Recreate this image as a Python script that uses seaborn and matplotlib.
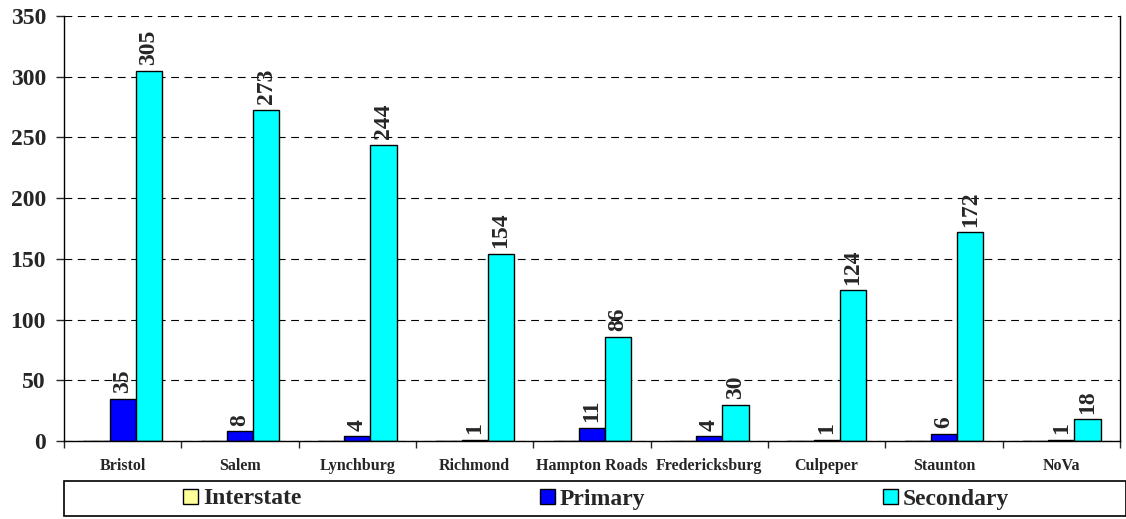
import pandas as pd
import matplotlib
matplotlib.use('Agg')
import matplotlib.pyplot as plt
import matplotlib.patches as mpatches
import seaborn as sns

# Данные
districts = ['Bristol', 'Salem', 'Lynchburg', 'Richmond', 'Hampton Roads',
             'Fredericksburg', 'Culpeper', 'Staunton', 'NoVa']
interstate = [0, 0, 0, 0, 0, 0, 0, 0, 0]
primary = [35, 8, 4, 1, 11, 4, 1, 6, 1]
secondary = [305, 273, 244, 154, 86, 30, 124, 172, 18]
series = ['Interstate', 'Primary', 'Secondary']
colors = ['#FFFF99', '#0000FF', '#00FFFF']

df = pd.DataFrame({'District': districts * 3,
                   'Type': [s for s in series for _ in districts],
                   'Count': interstate + primary + secondary})

sns.set_style('white')
plt.rcParams['font.family'] = ['Liberation Serif', 'DejaVu Serif']
plt.rcParams['font.weight'] = 'bold'

W, H = 1126, 519
fig = plt.figure(figsize=(W / 100, H / 100), dpi=100)
ax = fig.add_axes([64 / W, 1 - 441 / H, (1120 - 64) / W, (441 - 16) / H])

sns.barplot(data=df, x='District', y='Count', hue='Type', order=districts,
            hue_order=series, palette=colors, width=0.67, saturation=1,
            edgecolor='black', linewidth=1, ax=ax, legend=False)

# Подписи значений (только Primary и Secondary)
for i, cont in enumerate(ax.containers):
    if series[i] == 'Interstate':
        continue
    ax.bar_label(cont, rotation=90, padding=4, fontsize=17, fontweight='bold')

ax.set_ylim(0, 350)
ax.set_yticks(range(0, 351, 50))
ax.yaxis.grid(True, linestyle=(0, (7, 5)), color='black', linewidth=0.8)
ax.set_axisbelow(True)
ax.set_xlabel('')
ax.set_ylabel('')

for s in ['left', 'right', 'bottom']:
    ax.spines[s].set_visible(True)
    ax.spines[s].set_color('black')
    ax.spines[s].set_linewidth(1)
ax.spines['top'].set_visible(False)

# Метки оси Y
ax.tick_params(axis='y', labelsize=17, length=6, width=1, direction='out', left=True, pad=7)
for lbl in ax.get_yticklabels():
    lbl.set_fontweight('bold')

# Метки оси X по центрам, деления между категориями
ax.tick_params(axis='x', labelsize=11.5, length=0, pad=12)
for lbl in ax.get_xticklabels():
    lbl.set_fontweight('bold')
ax.set_xticks([i + 0.5 for i in range(-1, len(districts))], minor=True)
ax.tick_params(axis='x', which='minor', length=5, width=1, direction='out', bottom=True)
ax.set_xlim(-0.5, len(districts) - 0.5)

# Легенда: рамка и три элемента
frame = mpatches.Rectangle((64 / W, 1 - 516 / H), (W - 64) / W, 35 / H,
                           transform=fig.transFigure, facecolor='white',
                           edgecolor='black', linewidth=1.2)
fig.patches.append(frame)
for name, c, xpx in zip(series, colors, [183, 540, 883]):
    h = mpatches.Rectangle((0, 0), 1, 1, facecolor=c, edgecolor='black', linewidth=1)
    fig.legend([h], [name], loc='center left', bbox_to_anchor=(xpx / W, 1 - 499 / H),
               frameon=False, borderpad=0, borderaxespad=0,
               prop={'size': 17, 'weight': 'bold'}, handlelength=0.65,
               handleheight=0.6, handletextpad=0.2)

plt.savefig('out.png', dpi=100)
